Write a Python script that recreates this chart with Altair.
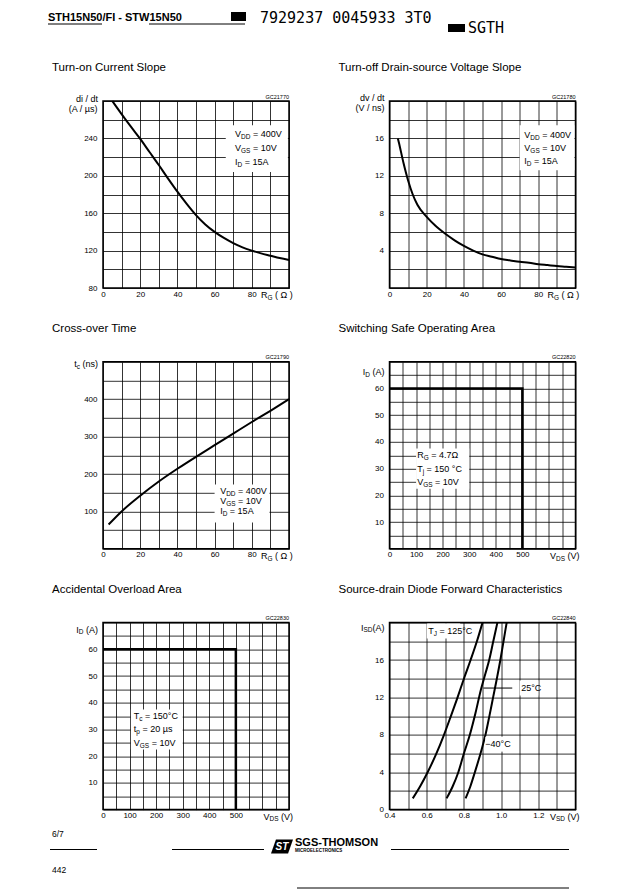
import altair as alt
import pandas as pd

FONT = "Liberation Sans"
MONO = "DejaVu Sans Mono"

# ---------------- values read from the page ----------------
# Turn-on Current Slope : di/dt (A/us) versus RG (ohm)
p1_rg = [5, 10, 15, 20, 25, 30, 35, 40, 45, 50, 55, 60, 65, 70, 75, 80, 85, 90, 95, 100]
p1_didt = [280, 266, 252.5, 239.5, 225.5, 211.5, 197, 183, 170, 158, 148, 140, 133.5, 128, 123.5,
           120, 117, 114.5, 112, 110]

# Turn-off Drain-source Voltage Slope : dv/dt (V/ns) versus RG (ohm)
p2_rg = [4.5, 5, 7.5, 10, 12.5, 15, 20, 25, 30, 35, 40, 45, 50, 55, 60, 65, 70, 75, 80, 85, 90, 95, 100]
p2_dvdt = [16.0, 15.6, 13.4, 11.5, 10.0, 8.9, 7.6, 6.6, 5.8, 5.1, 4.5, 4.0, 3.6, 3.35, 3.1, 2.95,
           2.8, 2.7, 2.55, 2.45, 2.35, 2.28, 2.2]

# Cross-over Time : tc (ns) versus RG (ohm)
p3_rg = [3, 10, 20, 30, 40, 50, 60, 70, 80, 90, 100]
p3_tc = [65, 100, 142, 180, 214, 246, 277, 308, 339, 369, 400]

# Switching Safe Operating Area : ID (A) versus VDS (V)
p4_vds = [0, 500, 500]
p4_id = [60, 60, 0]

# Accidental Overload Area : ID (A) versus VDS (V)
p5_vds = [0, 500, 500]
p5_id = [60, 60, 0]

# Source-drain Diode Forward Characteristics : ISD (A) versus VSD (V)
p6_v125 = [0.525, 0.565, 0.605, 0.65, 0.693, 0.73, 0.766, 0.80, 0.836, 0.87, 0.90]
p6_i125 = [1.2, 2.5, 4.0, 5.9, 8.0, 10.0, 12.0, 14.0, 16.0, 18.0, 20.0]
p6_v25 = [0.707, 0.74, 0.77, 0.80, 0.832, 0.862, 0.891, 0.915, 0.936, 0.958, 0.98]
p6_i25 = [1.2, 2.5, 4.0, 6.0, 8.0, 10.3, 12.8, 14.5, 16.0, 18.0, 20.0]
p6_vm40 = [0.809, 0.835, 0.859, 0.895, 0.916, 0.937, 0.957, 0.977, 0.996, 1.013, 1.03]
p6_im40 = [1.2, 2.5, 4.0, 6.4, 8.0, 10.0, 12.0, 14.0, 16.0, 18.0, 20.0]
p6_series = ["125", "25", "-40"]

# tick labels
rg_xlabels = ["0", "20", "40", "60", "80"]
p1_ylabels = ["80", "120", "160", "200", "240"]
p2_ylabels = ["4", "8", "12", "16"]
p3_ylabels = ["100", "200", "300", "400"]
soa_xlabels = ["0", "100", "200", "300", "400", "500"]
soa_ylabels = ["10", "20", "30", "40", "50", "60"]
p6_xlabels = ["0.4", "0.6", "0.8", "1.0", "1.2"]
p6_ylabels = ["0", "4", "8", "12", "16"]

# texts
titles = ["Turn-on Current Slope", "Turn-off Drain-source Voltage Slope", "Cross-over Time",
          "Switching Safe Operating Area", "Accidental Overload Area",
          "Source-drain Diode Forward Characteristics"]
codes = ["GC21770", "GC21780", "GC21790", "GC22820", "GC22830", "GC22840"]
rg_title = ["R", "G", " ( Ω )"]
vds_title = ["V", "DS", " (V)"]
vsd_title = ["V", "SD", " (V)"]
p1_ytitle = [["di / dt"], ["(A / µs)"]]
p2_ytitle = [["dv / dt"], ["(V / ns)"]]
p3_ytitle = [["t", "c", " (ns)"]]
p4_ytitle = [["I", "D", " (A)"]]
p5_ytitle = [["I", "D", " (A)"]]
p6_ytitle = [["I", "SD", "(A)"]]
cond_sw = [["V", "DD", " = 400V"], ["V", "GS", " = 10V"], ["I", "D", " = 15A"]]
cond_p4 = [["R", "G", " = 4.7Ω"], ["T", "j", " = 150 °C"], ["V", "GS", " = 10V"]]
cond_p5 = [["T", "c", " = 150°C"], ["t", "p", " = 20 µs"], ["V", "GS", " = 10V"]]
p6_notes = [["T", "J", " = 125°C"], ["25°C"], ["−40°C"]]

head_left = "STH15N50/FI - STW15N50"
head_code = "7929237 0045933 3T0"
head_code2 = "SGTH"
foot_page = "6/7"
foot_num = "442"
brand = "SGS-THOMSON"
brand_sub = "MICROELECTRONICS"
logo_txt = "ST"

# ---------------- helpers ----------------
W, H = 186, 187

CW = {c: 0.556 for c in "0123456789"}
CW.update({" ": 0.278, "=": 0.584, "(": 0.333, ")": 0.333, "/": 0.278, ".": 0.278, "-": 0.333,
           "−": 0.584, "°": 0.4, "µ": 0.576, "Ω": 0.768, "A": 0.667, "C": 0.722, "D": 0.722,
           "G": 0.778, "I": 0.278, "J": 0.5, "R": 0.722, "S": 0.667, "T": 0.611, "V": 0.667,
           "c": 0.5, "d": 0.556, "i": 0.222, "j": 0.222, "n": 0.556, "p": 0.556, "s": 0.5,
           "t": 0.278, "v": 0.5})


def tw(s, size):
    return size * sum(CW.get(ch, 0.556) for ch in s)


def rich(parts, size, x, y, align="left", sc=None):
    """parts = [main, subscript, rest]; x/y in data units if sc=(xs, ys, xax, yax) else pixels."""
    segs = []
    for k, t in enumerate(parts):
        if not t:
            continue
        sub = k == 1
        fs = size * 0.72 if sub else size
        st = t.lstrip(" ")
        gap = tw(" " * (len(t) - len(st)), fs)
        segs.append((st, sub, fs, gap))
    total = sum(g + tw(t, fs) for t, sub, fs, g in segs)
    cum = 0 if align == "left" else (-total if align == "right" else -total / 2)
    out = []
    for t, sub, fs, g in segs:
        cum += g
        if sc is not None:
            xs, ys, xax, yax = sc
            df = pd.DataFrame({"x": [x], "y": [y], "t": [t]})
            enc = dict(x=alt.X("x:Q", scale=xs, axis=xax), y=alt.Y("y:Q", scale=ys, axis=yax))
        else:
            df = pd.DataFrame({"t": [t]})
            enc = dict(x=alt.value(x), y=alt.value(y))
        out.append(alt.Chart(df).mark_text(align="left", baseline="middle", dx=cum,
                                           dy=(0.32 * size if sub else 0), fontSize=fs,
                                           font=FONT, color="black").encode(text="t:N", **enc))
        cum += tw(t, fs)
    return out


def lexpr(labels, fmt):
    arr = ",".join("'%s'" % l for l in labels)
    return "indexof([%s], format(datum.value, '%s')) >= 0 ? format(datum.value, '%s') : ''" % (arr, fmt, fmt)


def axis(vals, labels, fmt, orient):
    return alt.Axis(values=vals, labelExpr=lexpr(labels, fmt), orient=orient, grid=True, ticks=False,
                    domain=False, title=None, labelFontSize=8, labelFont=FONT, labelColor="black",
                    labelPadding=2 if orient == "bottom" else 6, gridColor="black", gridWidth=0.8,
                    gridOpacity=1, labelFlush=False, labelOverlap=False, labelBound=False)


def scale(dom):
    return alt.Scale(domain=dom, nice=False, zero=False)


def finish(layers, k, sc, boxes, notes, note_size, xtitle, ytitles):
    xs, ys, xax, yax = sc
    for (a, b, c, d) in boxes:
        bdf = pd.DataFrame({"x": [a], "x2": [b], "y": [c], "y2": [d]})
        layers.append(alt.Chart(bdf).mark_rect(color="white").encode(
            x=alt.X("x:Q", scale=xs, axis=xax), x2="x2:Q",
            y=alt.Y("y:Q", scale=ys, axis=yax), y2="y2:Q"))
    for parts, nx, ny in notes:
        layers += rich(parts, note_size, nx, ny, "left", sc)
    layers += rich(xtitle, 9, W + 4, H + 7, "right")
    for parts, py in ytitles:
        layers += rich(parts, 9, -5, py, "right")
    layers.append(alt.Chart(pd.DataFrame({"t": [codes[k]]})).mark_text(
        align="right", baseline="middle", fontSize=5.5, font=FONT, color="black").encode(
        text="t:N", x=alt.value(W), y=alt.value(-4.5)))
    layers.append(alt.Chart(pd.DataFrame({"t": [""]})).mark_rule(opacity=0).encode(
        x=alt.value(-55), y=alt.value(0), y2=alt.value(5)))
    return alt.layer(*layers).properties(
        width=W, height=H,
        title=alt.TitleParams(text=titles[k], anchor="start", frame="group", dx=-51, offset=21,
                              fontSize=11.5, font=FONT, fontWeight="normal", color="black"))


xg100 = [10 * i for i in range(11)]


def curve(xv, yv, sc, sw=2, interp="monotone"):
    xs, ys, xax, yax = sc
    df = pd.DataFrame({"x": xv, "y": yv, "i": list(range(len(xv)))})
    return alt.Chart(df).mark_line(color="black", strokeWidth=sw, interpolate=interp).encode(
        x=alt.X("x:Q", scale=xs, axis=xax), y=alt.Y("y:Q", scale=ys, axis=yax), order="i:Q")


# ---- panel 1
sc1 = (scale([0, 100]), scale([80, 280]), axis(xg100, rg_xlabels, "d", "bottom"),
       axis([80 + 20 * i for i in range(11)], p1_ylabels, "d", "left"))
pan1 = finish([curve(p1_rg, p1_didt, sc1)], 0, sc1, [(66, 99.4, 204, 254)],
              [(cond_sw[0], 71, 245), (cond_sw[1], 71, 230), (cond_sw[2], 71, 215)], 9,
              rg_title, [(p1_ytitle[0], -2), (p1_ytitle[1], 8)])

# ---- panel 2
sc2 = (scale([0, 100]), scale([0, 20]), axis(xg100, rg_xlabels, "d", "bottom"),
       axis([2 * i for i in range(11)], p2_ylabels, "d", "left"))
pan2 = finish([curve(p2_rg, p2_dvdt, sc2)], 1, sc2, [(70, 99.4, 12.6, 17.4)],
              [(cond_sw[0], 72.5, 16.4), (cond_sw[1], 72.5, 15.0), (cond_sw[2], 72.5, 13.6)], 9,
              rg_title, [(p2_ytitle[0], -3), (p2_ytitle[1], 7)])

# ---- panel 3
sc3 = (scale([0, 100]), scale([0, 500]), axis(xg100, rg_xlabels, "d", "bottom"),
       axis([50 * i for i in range(11)], p3_ylabels, "d", "left"))
pan3 = finish([curve(p3_rg, p3_tc, sc3)], 2, sc3, [(60, 89.5, 70, 172)],
              [(cond_sw[0], 63, 154), (cond_sw[1], 63, 128), (cond_sw[2], 63, 102)], 9,
              rg_title, [(p3_ytitle[0], 2)])

# ---- panel 4
sc4 = (scale([0, 700]), scale([0, 70]), axis([50 * i for i in range(15)], soa_xlabels, "d", "bottom"),
       axis([5 * i for i in range(15)], soa_ylabels, "d", "left"))
pan4 = finish([curve(p4_vds, p4_id, sc4, sw=2.5, interp="linear")], 3, sc4, [(100, 300, 22.5, 37.5)],
              [(cond_p4[0], 104, 35), (cond_p4[1], 104, 30), (cond_p4[2], 104, 25)], 9,
              vds_title, [(p4_ytitle[0], 10)])

# ---- panel 5
sc5 = (scale([0, 700]), scale([0, 70]), axis([50 * i for i in range(15)], soa_xlabels, "d", "bottom"),
       axis([5 * i for i in range(15)], soa_ylabels, "d", "left"))
pan5 = finish([curve(p5_vds, p5_id, sc5, sw=2.5, interp="linear")], 4, sc5, [(105, 300, 22.5, 37.5)],
              [(cond_p5[0], 116, 35), (cond_p5[1], 116, 30), (cond_p5[2], 116, 25)], 9,
              vds_title, [(p5_ytitle[0], 7)])

# ---- panel 6
sc6 = (scale([0.4, 1.4]), scale([0, 20]),
       axis([round(0.4 + 0.1 * i, 1) for i in range(11)], p6_xlabels, ".1f", "bottom"),
       axis([2 * i for i in range(11)], p6_ylabels, "d", "left"))
rows = []
for name, vv, ii in zip(p6_series, [p6_v125, p6_v25, p6_vm40], [p6_i125, p6_i25, p6_im40]):
    for j, (v, c) in enumerate(zip(vv, ii)):
        rows.append({"x": v, "y": c, "s": name, "i": j})
df6 = pd.DataFrame(rows)
l6 = alt.Chart(df6).mark_line(color="black", strokeWidth=2, interpolate="monotone").encode(
    x=alt.X("x:Q", scale=sc6[0], axis=sc6[2]), y=alt.Y("y:Q", scale=sc6[1], axis=sc6[3]),
    detail="s:N", order="i:Q")
lead6 = alt.Chart(pd.DataFrame({"x": [0.905], "x2": [1.06], "y": [13.0]})).mark_rule(
    color="black", strokeWidth=1).encode(x=alt.X("x:Q", scale=sc6[0], axis=sc6[2]), x2="x2:Q",
                                        y=alt.Y("y:Q", scale=sc6[1], axis=sc6[3]))
pan6 = finish([l6, lead6], 5, sc6,
              [(0.6, 0.78, 18.3, 19.9), (1.1, 1.2, 12.2, 13.8), (0.915, 1.06, 6.2, 7.8)],
              [(p6_notes[0], 0.608, 19.1), (p6_notes[1], 1.108, 13.0), (p6_notes[2], 0.915, 7.0)], 9,
              vsd_title, [(p6_ytitle[0], 5)])

grid = alt.concat(pan1, pan2, pan3, pan4, pan5, pan6, columns=2, spacing={"row": 18.8, "column": 39.5})


# ---------------- page header / footer (pixel offsets from the first plot's left edge) ----------------
def vtext(t, x, y, size, weight="normal", font=FONT, color="black", style="normal", align="left"):
    return alt.Chart(pd.DataFrame({"t": [t]})).mark_text(
        align=align, baseline="middle", fontSize=size, fontWeight=weight, font=font, color=color,
        fontStyle=style).encode(text="t:N", x=alt.value(x), y=alt.value(y))


def vrule(x1, x2, y, w=1.0):
    return alt.Chart(pd.DataFrame({"t": [""]})).mark_rule(color="black", strokeWidth=w).encode(
        x=alt.value(x1), x2=alt.value(x2), y=alt.value(y))


def vrect(x1, x2, y1, y2):
    return alt.Chart(pd.DataFrame({"t": [""]})).mark_rect(color="black").encode(
        x=alt.value(x1), x2=alt.value(x2), y=alt.value(y1), y2=alt.value(y2))


header = alt.layer(
    vtext(head_left, -55, -1, 11, weight="bold"),
    vrule(-55, -1, 5), vrule(46, 142, 5),
    vrect(128, 143, -7, 2),
    vtext(head_code, 157, -1, 15, font=MONO),
    vrect(345, 362, 5, 13),
    vtext(head_code2, 365, 9, 15, font=MONO),
).properties(width=460, height=36, view=alt.ViewBackground(stroke="transparent"))

logo = alt.Chart(pd.DataFrame({"t": [""]})).mark_point(
    shape="M -0.55 -0.64 L 1 -0.64 L 0.55 0.64 L -1 0.64 Z", filled=True, color="black",
    opacity=1, size=484).encode(x=alt.value(179), y=alt.value(13.5))

footer = alt.layer(
    vtext(foot_page, -51, 0.5, 8.5),
    vrule(-53, -6, 16.5),
    vtext(foot_num, -51, 36.5, 8.5),
    vrule(69, 161, 16.5),
    logo,
    vtext(logo_txt, 179, 13.5, 10, weight="bold", color="white", style="italic", align="center"),
    vtext(brand, 192, 9.5, 11, weight="bold"),
    vtext(brand_sub, 192, 17.5, 4.5, weight="bold"),
    vrule(288, 466, 16.5),
    vrule(194, 466, 55),
).properties(width=466, height=56, view=alt.ViewBackground(stroke="transparent"))

chart = alt.vconcat(header, grid, footer, spacing=4).properties(
    padding={"left": 38, "top": 2, "right": 0, "bottom": 0}
).configure(font=FONT, background="white").configure_view(stroke="black", strokeWidth=1.5)

chart.save("out.html", embed_options={"renderer": "svg", "actions": False})
